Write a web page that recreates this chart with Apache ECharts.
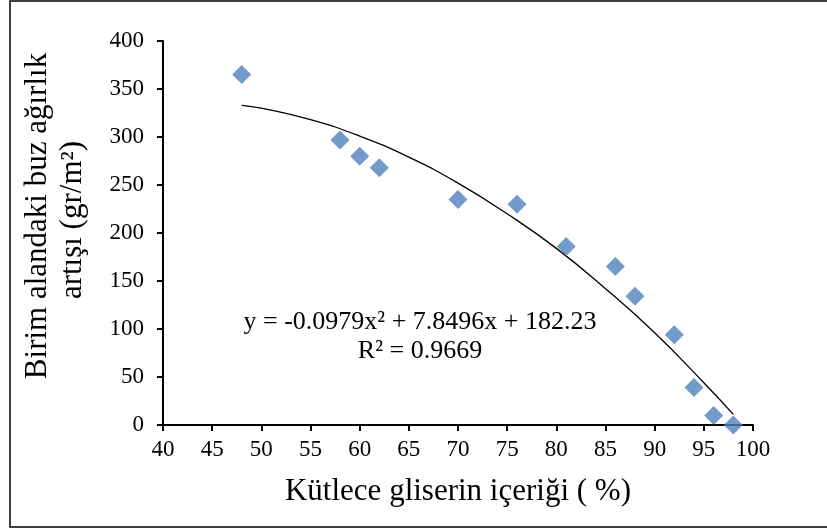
<!DOCTYPE html>
<html>
<head>
<meta charset="utf-8">
<script src="https://cdn.jsdelivr.net/npm/echarts@6/dist/echarts.min.js"></script>
<style>
  html, body { margin: 0; padding: 0; background: #fff; }
  #chart { width: 827px; height: 529px; }
</style>
</head>
<body>
<div id="chart"></div>
<script>
// measured points (glycerin % , ice weight gain g/m2)
var glycerin = [48, 58, 60, 62, 70, 76, 81, 86, 88, 92, 94, 96, 98];
var iceGain = [365, 297, 280, 268, 235, 230, 186, 165, 134, 94, 39, 10, 0];

// trend line
var trendX = [48, 50, 55, 60, 65, 70, 75, 80, 85, 90, 95, 98];
var trendY = [333, 330, 318, 301, 279, 252, 220, 184, 142, 96, 44, 11];

var eqText = 'y = -0.0979x² + 7.8496x + 182.23';
var r2Text = 'R² = 0.9669';

var serif = '"Liberation Serif", "DejaVu Serif", serif';

var chart = echarts.init(document.getElementById('chart'));

var points = glycerin.map(function (x, i) { return [x, iceGain[i]]; });
var trend = trendX.map(function (x, i) { return [x, trendY[i]]; });

var option = {
    animation: false,
    backgroundColor: '#fff',
    grid: {
        left: 163,
        right: 74,
        top: 41,
        bottom: 104
    },
    xAxis: {
        type: 'value',
        min: 40,
        max: 100,
        interval: 5,
        splitLine: { show: false },
        axisLine: { lineStyle: { color: '#000', width: 2 } },
        axisTick: { length: 6, lineStyle: { color: '#000', width: 2 } },
        axisLabel: { color: '#000', fontFamily: serif, fontSize: 23, margin: 13 },
        name: 'Kütlece gliserin içeriği ( %)',
        nameLocation: 'middle',
        nameGap: 51,
        nameTextStyle: { color: '#000', fontFamily: serif, fontSize: 31 }
    },
    yAxis: {
        type: 'value',
        min: 0,
        max: 400,
        interval: 50,
        splitLine: { show: false },
        axisLine: { show: true, lineStyle: { color: '#000', width: 2 } },
        axisTick: { show: true, length: 6, lineStyle: { color: '#000', width: 2 } },
        axisLabel: { color: '#000', fontFamily: serif, fontSize: 23, margin: 19 }
    },
    series: [
        {
            name: 'trend',
            type: 'line',
            data: trend,
            smooth: true,
            showSymbol: false,
            lineStyle: { color: '#000', width: 1.3 },
            z: 1
        },
        {
            name: 'data',
            type: 'scatter',
            data: points,
            symbol: 'diamond',
            symbolSize: 19,
            itemStyle: { color: '#4f81bd' },
            z: 2
        }
    ],
    graphic: [
        {
            type: 'rect',
            shape: { x: 10, y: 1, width: 830, height: 526 },
            style: { fill: 'none', stroke: '#000', lineWidth: 1.5 },
            silent: true
        },
        {
            type: 'text',
            x: 38,
            y: 216,
            rotation: Math.PI / 2,
            style: {
                text: 'Birim alandaki buz ağırlık',
                font: '31px ' + serif,
                fill: '#000',
                align: 'center',
                verticalAlign: 'middle'
            }
        },
        {
            type: 'text',
            x: 73,
            y: 220,
            rotation: Math.PI / 2,
            style: {
                text: 'artışı (gr/m²)',
                font: '31px ' + serif,
                fill: '#000',
                align: 'center',
                verticalAlign: 'middle'
            }
        },
        {
            type: 'text',
            x: 420,
            y: 322,
            style: {
                text: eqText,
                font: '26px ' + serif,
                fill: '#000',
                align: 'center',
                verticalAlign: 'middle'
            }
        },
        {
            type: 'text',
            x: 420,
            y: 351,
            style: {
                text: r2Text,
                font: '26px ' + serif,
                fill: '#000',
                align: 'center',
                verticalAlign: 'middle'
            }
        }
    ]
};

chart.setOption(option);
</script>
</body>
</html>
